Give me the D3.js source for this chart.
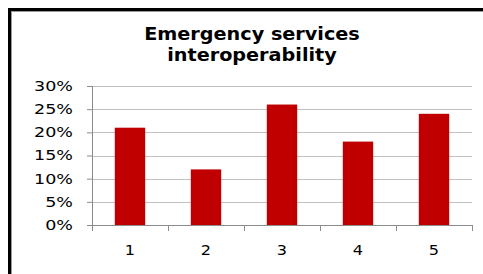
<!DOCTYPE html>
<html>
<head>
<meta charset="utf-8">
<script src="https://cdn.jsdelivr.net/npm/d3@7"></script>
<style>
  body { margin: 0; background: #fff; }
  svg { display: block; }
  text { font-family: 'DejaVu Sans', Verdana, sans-serif; }
</style>
</head>
<body>
<div id="chart"></div>
<script>
let categories = ['1', '2', '3', '4', '5']
let values = [0.21, 0.12, 0.26, 0.18, 0.24]
let yTicks = [0, 0.05, 0.1, 0.15, 0.2, 0.25, 0.3]
let titleLines = ['Emergency services', 'interoperability']

let totalWidth = 483
let totalHeight = 274

let margin = { top: 86, left: 92, right: 11, bottom: 49 }
let width = totalWidth - margin.left - margin.right
let height = totalHeight - margin.top - margin.bottom

// widen glyphs a little, the original font runs wider than DejaVu
function stretch(selection, factor) {
  selection.each(function() {
    let len = this.getComputedTextLength()
    d3.select(this)
      .attr('textLength', len * factor)
      .attr('lengthAdjust', 'spacingAndGlyphs')
  })
}

let root = d3
  .select('#chart')
  .append('svg')
  .attr('width', totalWidth)
  .attr('height', totalHeight)

// outer frame (runs off the right and bottom edge)
root
  .append('rect')
  .attr('x', 9.5)
  .attr('y', 9.5)
  .attr('width', 600)
  .attr('height', 400)
  .attr('fill', 'none')
  .attr('stroke', '#000')
  .attr('stroke-width', 3)
root
  .append('rect')
  .attr('x', 11.5)
  .attr('y', 11.5)
  .attr('width', 600)
  .attr('height', 400)
  .attr('fill', 'none')
  .attr('stroke', '#9a9a9a')
  .attr('stroke-width', 1)

root
  .selectAll('.title-text')
  .data(titleLines)
  .enter()
  .append('text')
  .attr('class', 'title-text')
  .attr('text-anchor', 'middle')
  .attr('font-size', 17)
  .attr('font-weight', 'bold')
  .attr('fill', '#000')
  .attr('x', 252)
  .attr('y', (d, i) => 40 + i * 21)
  .text(d => d)
  .call(stretch, 1.13)

let svg = root
  .append('g')
  .attr('transform', `translate(${margin.left}, ${margin.top})`)

let xPositionScale = d3
  .scaleBand()
  .domain(categories)
  .range([0, width])
  .paddingInner(0.6)
  .paddingOuter(0.3)

let yPositionScale = d3.scaleLinear().domain([0, 0.3]).range([height, 0])

// gridlines
svg
  .selectAll('.grid-line')
  .data(yTicks.slice(1))
  .enter()
  .append('line')
  .attr('class', 'grid-line')
  .attr('x1', 0)
  .attr('x2', width)
  .attr('y1', d => Math.round(yPositionScale(d)) + 0.5)
  .attr('y2', d => Math.round(yPositionScale(d)) + 0.5)
  .attr('stroke', '#c0c0c0')
  .attr('stroke-width', 1)

svg
  .selectAll('.bar')
  .data(values)
  .enter()
  .append('rect')
  .attr('class', 'bar')
  .attr('x', (d, i) => xPositionScale(categories[i]))
  .attr('width', xPositionScale.bandwidth())
  .attr('y', d => yPositionScale(d))
  .attr('height', d => height - yPositionScale(d))
  .attr('fill', '#c00000')

let yAxis = d3
  .axisLeft(yPositionScale)
  .tickValues(yTicks)
  .tickFormat(d3.format('.0%'))
  .tickSize(5)
  .tickPadding(14)
let yG = svg.append('g').attr('class', 'axis y-axis').call(yAxis)
yG.select('.domain').attr('stroke', '#8c8c8c').attr('d', `M0.5,0V${height}`)
yG.selectAll('.tick line').attr('stroke', '#8c8c8c')
yG
  .selectAll('text')
  .attr('font-size', 14)
  .attr('fill', '#000')
  .call(stretch, 1.25)

// category axis with ticks between the bars
let xAxisG = svg
  .append('g')
  .attr('class', 'axis x-axis')
  .attr('transform', `translate(0, ${height})`)
xAxisG
  .append('line')
  .attr('x1', 0)
  .attr('x2', width)
  .attr('y1', 0.5)
  .attr('y2', 0.5)
  .attr('stroke', '#8c8c8c')
xAxisG
  .selectAll('.sep')
  .data(d3.range(categories.length + 1))
  .enter()
  .append('line')
  .attr('class', 'sep')
  .attr('x1', i => Math.round(i * width / categories.length) + 0.5)
  .attr('x2', i => Math.round(i * width / categories.length) + 0.5)
  .attr('y1', 0)
  .attr('y2', 6)
  .attr('stroke', '#8c8c8c')
xAxisG
  .selectAll('.cat-label')
  .data(categories)
  .enter()
  .append('text')
  .attr('class', 'cat-label')
  .attr('x', d => xPositionScale(d) + xPositionScale.bandwidth() / 2)
  .attr('y', 30)
  .attr('text-anchor', 'middle')
  .attr('font-size', 14)
  .attr('fill', '#000')
  .text(d => d)
  .call(stretch, 1.15)
</script>
</body>
</html>
